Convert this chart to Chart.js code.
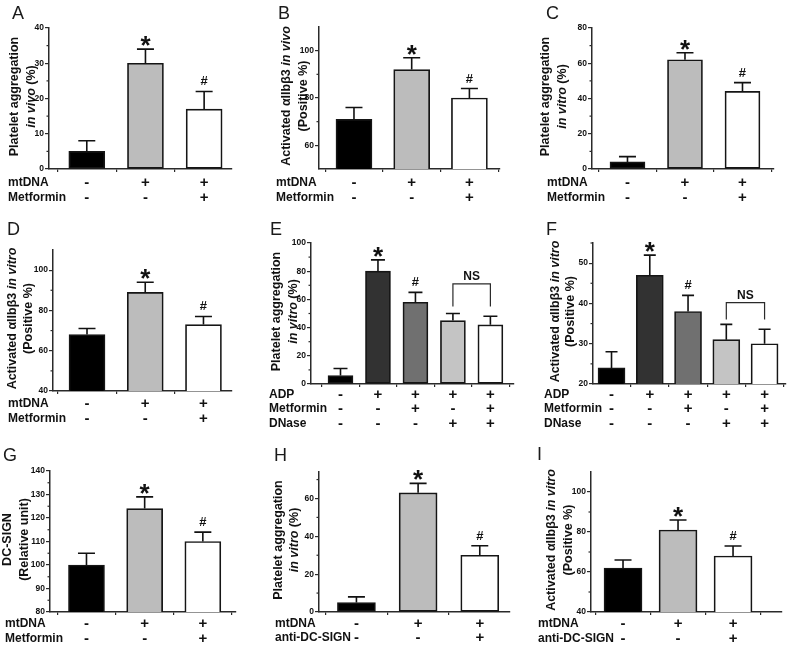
<!DOCTYPE html>
<html>
<head>
<meta charset="utf-8">
<script src="https://cdn.jsdelivr.net/npm/chart.js@4.4.1/dist/chart.umd.min.js"></script>
<style>
  body { margin: 0; background: #fff; width: 787px; height: 646px; position: relative; overflow: hidden; }
  canvas { position: absolute; }
</style>
</head>
<body>
<script>
// ---- data ----
// A: platelet aggregation in vivo
const aValues = [5, 30, 17];
const aErrors = [3, 4, 5];
const aMarks = ['', '*', '#'];
const aMtDNA = ['-', '+', '+'];
const aMetformin = ['-', '-', '+'];
const aYTicks = [0, 10, 20, 30, 40];
const aYMinor = [5, 15, 25, 35];

// B: activated aIIbb3 in vivo
const bValues = [71, 92, 80];
const bErrors = [5, 5, 4];
const bMarks = ['', '*', '#'];
const bMtDNA = ['-', '+', '+'];
const bMetformin = ['-', '-', '+'];
const bYTicks = [60, 80, 100];
const bYMinor = [70, 90];

// C: platelet aggregation in vitro
const cValues = [4, 62, 44];
const cErrors = [3, 4, 5];
const cMarks = ['', '*', '#'];
const cMtDNA = ['-', '+', '+'];
const cMetformin = ['-', '-', '+'];
const cYTicks = [0, 20, 40, 60, 80];
const cYMinor = [10, 30, 50, 70];

// D: activated aIIbb3 in vitro
const dValues = [68, 89, 73];
const dErrors = [3, 5, 4];
const dMarks = ['', '*', '#'];
const dMtDNA = ['-', '+', '+'];
const dMetformin = ['-', '-', '+'];
const dYTicks = [40, 60, 80, 100];
const dYMinor = [50, 70, 90];

// E: platelet aggregation in vitro, ADP / Metformin / DNase
const eValues = [6, 80, 58, 45, 42];
const eErrors = [5, 8, 7, 5, 6];
const eMarks = ['', '*', '#', '', ''];
const eADP = ['-', '+', '+', '+', '+'];
const eMetformin = ['-', '-', '+', '-', '+'];
const eDNase = ['-', '-', '-', '+', '+'];
const eYTicks = [0, 20, 40, 60, 80, 100];
const eYMinor = [10, 30, 50, 70, 90];
const eNsBars = [4, 5];
const eNsLevels = [71, 55];

// F: activated aIIbb3 in vitro, ADP / Metformin / DNase
const fValues = [24, 47, 38, 31, 30];
const fErrors = [4, 5, 4, 3.8, 3.6];
const fMarks = ['', '*', '#', '', ''];
const fADP = ['-', '+', '+', '+', '+'];
const fMetformin = ['-', '-', '+', '-', '+'];
const fDNase = ['-', '-', '-', '+', '+'];
const fYTicks = [20, 30, 40, 50];
const fYMinor = [25, 35, 45, 55];
const fNsBars = [4, 5];
const fNsLevels = [40.2, 36];

// G: DC-SIGN
const gValues = [100, 124, 110];
const gErrors = [5, 5, 4];
const gMarks = ['', '*', '#'];
const gMtDNA = ['-', '+', '+'];
const gMetformin = ['-', '-', '+'];
const gYTicks = [80, 90, 100, 110, 120, 130, 140];
const gYMinor = [85, 95, 105, 115, 125, 135];

// H: platelet aggregation in vitro, anti-DC-SIGN
const hValues = [5, 63, 30];
const hErrors = [3, 5, 5];
const hMarks = ['', '*', '#'];
const hMtDNA = ['-', '+', '+'];
const hAntiDC = ['-', '-', '+'];
const hYTicks = [0, 20, 40, 60];
const hYMinor = [10, 30, 50, 70];

// I: activated aIIbb3 in vitro, anti-DC-SIGN
const iValues = [62, 81, 68];
const iErrors = [4, 5, 5];
const iMarks = ['', '*', '#'];
const iMtDNA = ['-', '+', '+'];
const iAntiDC = ['-', '-', '+'];
const iYTicks = [40, 60, 80, 100];
const iYMinor = [50, 70, 90];

// ---- styles ----
const FONT = '"Liberation Sans", Arial, Helvetica, sans-serif';
const INK = '#111111';
const AXIS = '#2a2a2a';
const threeColors = ['#000000', '#bcbcbc', '#ffffff'];
const fiveColors = ['#000000', '#323232', '#707070', '#c4c4c4', '#ffffff'];

const titleAggVivo = [[{ t: 'Platelet aggregation' }], [{ t: 'in vivo', it: true }, { t: ' (%)' }]];
const titleAggVitro = [[{ t: 'Platelet aggregation' }], [{ t: 'in vitro', it: true }, { t: ' (%)' }]];
const titleActVivo = [[{ t: 'Activated αIIbβ3 ' }, { t: 'in vivo', it: true }], [{ t: '(Positive %)' }]];
const titleActVitro = [[{ t: 'Activated αIIbβ3 ' }, { t: 'in vitro', it: true }], [{ t: '(Positive %)' }]];
const titleDC = [[{ t: 'DC-SIGN' }], [{ t: '(Relative unit)' }]];

// layout of each panel in page pixels
const panels = [
  { box: [0, 0, 262, 215], letter: 'A', letterAt: [12, 19],
    values: aValues, errors: aErrors, marks: aMarks, colors: threeColors,
    rows: [{ name: 'mtDNA', signs: aMtDNA }, { name: 'Metformin', signs: aMetformin }], rowX: 8, rowY: [182, 197],
    yMin: 0, yMax: 40, yTicks: aYTicks, yMinor: aYMinor,
    axisX: 49, axisRight: 232, top: 28, bottom: 169, xMin: 0.356, xMax: 3.475, barW: 36, cap: 17,
    title: titleAggVivo, titleX: [15, 32] },
  { box: [262, 0, 262, 215], letter: 'B', letterAt: [278, 19],
    values: bValues, errors: bErrors, marks: bMarks, colors: threeColors,
    rows: [{ name: 'mtDNA', signs: bMtDNA }, { name: 'Metformin', signs: bMetformin }], rowX: 276, rowY: [182, 197],
    yMin: 50, yMax: 110, yTicks: bYTicks, yMinor: bYMinor,
    axisX: 319, axisRight: 500, top: 27, bottom: 169, xMin: 0.394, xMax: 3.53, barW: 36, cap: 17,
    title: titleActVivo, titleX: [287, 304] },
  { box: [524, 0, 263, 215], letter: 'C', letterAt: [546, 19],
    values: cValues, errors: cErrors, marks: cMarks, colors: threeColors,
    rows: [{ name: 'mtDNA', signs: cMtDNA }, { name: 'Metformin', signs: cMetformin }], rowX: 547, rowY: [182, 197],
    yMin: 0, yMax: 80, yTicks: cYTicks, yMinor: cYMinor,
    axisX: 592, axisRight: 774, top: 28, bottom: 169, xMin: 0.383, xMax: 3.548, barW: 35, cap: 17,
    title: titleAggVitro, titleX: [546, 563] },
  { box: [0, 215, 262, 215], letter: 'D', letterAt: [7, 235],
    values: dValues, errors: dErrors, marks: dMarks, colors: threeColors,
    rows: [{ name: 'mtDNA', signs: dMtDNA }, { name: 'Metformin', signs: dMetformin }], rowX: 8, rowY: [403, 418],
    yMin: 40, yMax: 110, yTicks: dYTicks, yMinor: dYMinor,
    axisX: 53, axisRight: 232, top: 250, bottom: 391, xMin: 0.416, xMax: 3.49, barW: 36, cap: 17,
    title: titleActVitro, titleX: [13, 29] },
  { box: [262, 215, 262, 215], letter: 'E', letterAt: [270, 235],
    values: eValues, errors: eErrors, marks: eMarks, colors: fiveColors,
    rows: [{ name: 'ADP', signs: eADP }, { name: 'Metformin', signs: eMetformin }, { name: 'DNase', signs: eDNase }],
    rowX: 269, rowY: [394, 408, 423],
    yMin: 0, yMax: 100, yTicks: eYTicks, yMinor: eYMinor,
    axisX: 311, axisRight: 514, top: 243, bottom: 384, xMin: 0.213, xMax: 5.63, barW: 25, cap: 14,
    title: titleAggVitro, titleX: [277, 294], ns: { bars: eNsBars, levels: eNsLevels } },
  { box: [524, 215, 263, 215], letter: 'F', letterAt: [546, 235],
    values: fValues, errors: fErrors, marks: fMarks, colors: fiveColors,
    rows: [{ name: 'ADP', signs: fADP }, { name: 'Metformin', signs: fMetformin }, { name: 'DNase', signs: fDNase }],
    rowX: 544, rowY: [394, 408, 423],
    yMin: 20, yMax: 55, yTicks: fYTicks, yMinor: fYMinor,
    axisX: 593, axisRight: 786, top: 243, bottom: 384, xMin: 0.516, xMax: 5.56, barW: 27, cap: 12,
    title: titleActVitro, titleX: [556, 571], ns: { bars: fNsBars, levels: fNsLevels } },
  { box: [0, 430, 262, 216], letter: 'G', letterAt: [3, 461],
    values: gValues, errors: gErrors, marks: gMarks, colors: threeColors,
    rows: [{ name: 'mtDNA', signs: gMtDNA }, { name: 'Metformin', signs: gMetformin }], rowX: 5, rowY: [623, 638],
    yMin: 80, yMax: 140, yTicks: gYTicks, yMinor: gYMinor,
    axisX: 50, axisRight: 236, top: 471, bottom: 612, xMin: 0.373, xMax: 3.57, barW: 36, cap: 17,
    title: titleDC, titleX: [8, 25] },
  { box: [262, 430, 262, 216], letter: 'H', letterAt: [274, 461],
    values: hValues, errors: hErrors, marks: hMarks, colors: threeColors,
    rows: [{ name: 'mtDNA', signs: hMtDNA }, { name: 'anti-DC-SIGN', signs: hAntiDC }], rowX: 275, rowY: [623, 637],
    yMin: 0, yMax: 74, yTicks: hYTicks, yMinor: hYMinor,
    axisX: 319, axisRight: 510, top: 472, bottom: 612, xMin: 0.393, xMax: 3.49, barW: 38, cap: 17,
    title: titleAggVitro, titleX: [279, 295] },
  { box: [524, 430, 263, 216], letter: 'I', letterAt: [537, 460],
    values: iValues, errors: iErrors, marks: iMarks, colors: threeColors,
    rows: [{ name: 'mtDNA', signs: iMtDNA }, { name: 'anti-DC-SIGN', signs: iAntiDC }], rowX: 538, rowY: [623, 638],
    yMin: 40, yMax: 110, yTicks: iYTicks, yMinor: iYMinor,
    axisX: 591, axisRight: 782, top: 472, bottom: 612, xMin: 0.418, xMax: 3.89, barW: 38, cap: 17,
    title: titleActVitro, titleX: [552, 569] }
];

function halfTicks(min, max) {
  const t = [];
  for (let v = 0.5; v <= max + 1e-9; v += 1) if (v >= min) t.push({ value: v });
  return t;
}

function segFont(s) {
  return (s.it ? 'italic ' : '') + 'bold 12.5px ' + FONT;
}

// everything that Chart.js doesn't draw by itself: error bars, marks, titles, rows
function makeDecor(p) {
  return {
    id: 'decor',
    afterDraw(chart) {
      const ctx = chart.ctx;
      const xs = chart.scales.x, ys = chart.scales.y;
      const area = chart.chartArea;
      const ox = p.box[0], oy = p.box[1];
      const meta = chart.getDatasetMeta(0);
      ctx.save();

      // minor y ticks
      ctx.strokeStyle = AXIS;
      ctx.lineWidth = 1.2;
      p.yMinor.forEach(v => {
        if (v > p.yMax || v < p.yMin) return;
        const y = ys.getPixelForValue(v);
        ctx.beginPath();
        ctx.moveTo(area.left - 2.5, y);
        ctx.lineTo(area.left, y);
        ctx.stroke();
      });

      // error bars + significance marks
      ctx.fillStyle = INK;
      p.values.forEach((v, i) => {
        const bar = meta.data[i];
        const yTop = ys.getPixelForValue(v + p.errors[i]);
        ctx.strokeStyle = INK;
        ctx.lineWidth = 1.6;
        ctx.beginPath();
        ctx.moveTo(bar.x, bar.y);
        ctx.lineTo(bar.x, yTop);
        ctx.moveTo(bar.x - p.cap / 2, yTop);
        ctx.lineTo(bar.x + p.cap / 2, yTop);
        ctx.stroke();
        ctx.textAlign = 'center';
        ctx.textBaseline = 'alphabetic';
        if (p.marks[i] === '*') {
          ctx.font = 'bold 26px ' + FONT;
          ctx.fillText('*', bar.x, yTop + 5);
        } else if (p.marks[i] === '#') {
          ctx.font = 'bold 13px ' + FONT;
          ctx.fillText('#', bar.x, yTop - 6);
        }
      });

      // NS bracket
      if (p.ns) {
        const x1 = meta.data[p.ns.bars[0] - 1].x;
        const x2 = meta.data[p.ns.bars[1] - 1].x;
        const yT = ys.getPixelForValue(p.ns.levels[0]);
        const yL = ys.getPixelForValue(p.ns.levels[1]);
        ctx.strokeStyle = AXIS;
        ctx.lineWidth = 1.2;
        ctx.beginPath();
        ctx.moveTo(x1, yL);
        ctx.lineTo(x1, yT);
        ctx.lineTo(x2, yT);
        ctx.lineTo(x2, yL);
        ctx.stroke();
        ctx.font = 'bold 12px ' + FONT;
        ctx.textAlign = 'center';
        ctx.fillText('NS', (x1 + x2) / 2, yT - 4);
      }

      // y title, two rotated lines
      const cy = (area.top + area.bottom) / 2 - 2;
      p.title.forEach((segs, k) => {
        ctx.save();
        ctx.translate(p.titleX[k] - ox, cy);
        ctx.rotate(-Math.PI / 2);
        ctx.textAlign = 'left';
        ctx.textBaseline = 'middle';
        let total = 0;
        segs.forEach(s => { ctx.font = segFont(s); total += ctx.measureText(s.t).width; });
        let x = -total / 2;
        segs.forEach(s => {
          ctx.font = segFont(s);
          ctx.fillText(s.t, x, 0);
          x += ctx.measureText(s.t).width;
        });
        ctx.restore();
      });

      // condition rows under the axis
      ctx.textBaseline = 'alphabetic';
      p.rows.forEach((r, k) => {
        const y = p.rowY[k] - oy;
        ctx.font = 'bold 12px ' + FONT;
        ctx.textAlign = 'left';
        ctx.fillText(r.name, p.rowX - ox, y + 4.3);
        ctx.font = 'bold 15px ' + FONT;
        ctx.textAlign = 'center';
        r.signs.forEach((s, i) => ctx.fillText(s, xs.getPixelForValue(i + 1), y + 5));
      });

      // panel letter
      ctx.font = '18px ' + FONT;
      ctx.textAlign = 'left';
      ctx.fillStyle = '#1a1a1a';
      ctx.fillText(p.letter, p.letterAt[0] - ox, p.letterAt[1] - oy);
      ctx.restore();
    }
  };
}

panels.forEach(p => {
  const [bx, by, bw, bh] = p.box;
  const canvas = document.createElement('canvas');
  canvas.width = bw;
  canvas.height = bh;
  canvas.style.left = bx + 'px';
  canvas.style.top = by + 'px';
  canvas.style.width = bw + 'px';
  canvas.style.height = bh + 'px';
  document.body.appendChild(canvas);

  const leftW = p.axisX - bx;

  new Chart(canvas, {
    type: 'bar',
    data: {
      datasets: [{
        data: p.values.map((v, i) => ({ x: i + 1, y: v })),
        backgroundColor: p.colors,
        borderColor: '#151515',
        borderWidth: 1.7,
        borderSkipped: false,
        barThickness: p.barW
      }]
    },
    options: {
      responsive: false,
      animation: false,
      devicePixelRatio: 1,
      layout: {
        padding: { left: 0, top: p.top - by, right: bx + bw - p.axisRight, bottom: by + bh - p.bottom }
      },
      plugins: { legend: { display: false }, tooltip: { enabled: false } },
      scales: {
        x: {
          type: 'linear',
          min: p.xMin,
          max: p.xMax,
          offset: false,
          grid: { drawOnChartArea: false, drawTicks: true, tickLength: 3, color: AXIS, lineWidth: 1.2, offset: false },
          border: { color: AXIS, width: 1.5 },
          ticks: { autoSkip: false, callback: () => '' },
          afterBuildTicks: s => { s.ticks = halfTicks(p.xMin, p.xMax); },
          afterFit: s => { s.height = 0; }
        },
        y: {
          min: p.yMin,
          max: p.yMax,
          grid: { drawOnChartArea: false, drawTicks: true, tickLength: 4, color: AXIS, lineWidth: 1.2 },
          border: { color: AXIS, width: 1.5 },
          ticks: { autoSkip: false, padding: 1, color: INK, font: { family: FONT, size: 8.5, weight: 'bold' } },
          afterBuildTicks: s => { s.ticks = p.yTicks.map(v => ({ value: v })); },
          afterFit: s => { s.width = leftW; }
        }
      }
    },
    plugins: [makeDecor(p)]
  });
});
</script>
</body>
</html>
